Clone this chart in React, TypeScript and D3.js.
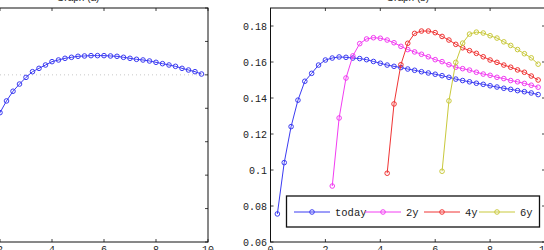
import { useEffect, useRef } from "react";
import * as d3 from "d3";

const W = 544;
const H = 250;

// tick values
const xTicks = [0, 2, 4, 6, 8, 10];
const yTicksA = [0.04, 0.06, 0.08, 0.1, 0.12, 0.14, 0.16, 0.18];
const yTicksB = [0.06, 0.08, 0.1, 0.12, 0.14, 0.16, 0.18];
const refLevelA = 0.14;

// maturities are on a 0.25 grid, each series has its own first point
const step = 0.25;

// Graph (a)
const spotStart = 1.5;
const spot = [
  0.0989, 0.1089, 0.1174, 0.1244, 0.1302, 0.1345, 0.1385, 0.1419, 0.1439,
  0.1459, 0.1479, 0.1489, 0.1499, 0.1505, 0.1511, 0.1513, 0.1515, 0.1515,
  0.1515, 0.1513, 0.1511, 0.1505, 0.1499, 0.1493, 0.1489, 0.1483, 0.1475,
  0.1467, 0.1459, 0.1451, 0.1439, 0.1429, 0.1419, 0.1405,
];

// Graph (b)
const seriesNames = ["today", "2y", "4y", "6y"];
const seriesColors = ["#3b3bf2", "#f23cf2", "#f03434", "#c9c93c"];
const seriesStarts = [0.25, 2.25, 4.25, 6.25];
const today = [
  0.0756, 0.1041, 0.1241, 0.1388, 0.1493, 0.1537, 0.1583, 0.1611, 0.1622,
  0.1628, 0.1626, 0.1622, 0.1619, 0.1613, 0.1603, 0.1593, 0.1583, 0.1576,
  0.1569, 0.1561, 0.1554, 0.1546, 0.1539, 0.1532, 0.1524, 0.1515, 0.1505,
  0.1497, 0.149, 0.1482, 0.1476, 0.1468, 0.1461, 0.1454, 0.1448, 0.1441,
  0.1435, 0.1428, 0.1419,
];
const fwd2y = [
  0.0911, 0.1289, 0.1511, 0.1634, 0.1702, 0.1728, 0.1735, 0.1732, 0.1722,
  0.1707, 0.1687, 0.1669, 0.1656, 0.1643, 0.1629, 0.1613, 0.1602, 0.1585,
  0.1571, 0.1563, 0.1555, 0.1543, 0.1533, 0.1526, 0.1515, 0.1508, 0.1497,
  0.149, 0.1481, 0.1471, 0.146,
];
const fwd4y = [
  0.0982, 0.1367, 0.1585, 0.1704, 0.1759, 0.1772, 0.1772, 0.1763, 0.1742,
  0.1722, 0.1698, 0.1679, 0.1663, 0.1648, 0.1629, 0.1611, 0.1598, 0.1583,
  0.1571, 0.1556, 0.1543, 0.1522, 0.15,
];
const fwd6y = [
  0.0993, 0.1384, 0.1598, 0.1705, 0.1755, 0.1766, 0.1761, 0.1746, 0.1733,
  0.1712, 0.1692, 0.1669, 0.1646, 0.1623, 0.1588,
];
const seriesValues = [today, fwd2y, fwd4y, fwd6y];

type Pt = [number, number];
const toPoints = (start: number, vals: number[]): Pt[] =>
  vals.map((v, i) => [start + i * step, v]);

const MONO = "'Liberation Mono', 'DejaVu Sans Mono', monospace";
const SANS = "'Liberation Sans', Arial, sans-serif";

export default function App() {
  const svgRef = useRef<SVGSVGElement>(null);

  useEffect(() => {
    if (!svgRef.current) return;
    const svg = d3.select(svgRef.current);
    svg.selectAll("*").remove();

    const top = 8;
    const bottom = 242;
    const tick = 3;

    // panel boxes
    const boxA = { left: -52, right: 208 };
    const boxB = { left: 270.5, right: 545 };

    const xA = d3.scaleLinear().domain([0, 10]).range([boxA.left, boxA.right]);
    const yA = d3.scaleLinear().domain([0.04, 0.18]).range([bottom, top]);
    const xB = d3.scaleLinear().domain([0, 10]).range([boxB.left, boxB.right]);
    const yB = d3.scaleLinear().domain([0.06, 0.19]).range([bottom, top]);

    const fmt = (d: number) => String(+d.toFixed(2));

    const drawFrame = (
      x: d3.ScaleLinear<number, number>,
      y: d3.ScaleLinear<number, number>,
      yTicks: number[],
      title: string
    ) => {
      const [l, r] = x.range();
      const g = svg.append("g");
      const tickG = g.append("g").attr("stroke", "#111").attr("stroke-width", 0.8);
      xTicks.forEach((t) => {
        tickG.append("line").attr("x1", x(t)).attr("x2", x(t)).attr("y1", bottom).attr("y2", bottom - tick);
        tickG.append("line").attr("x1", x(t)).attr("x2", x(t)).attr("y1", top).attr("y2", top + tick);
      });
      yTicks.forEach((t) => {
        tickG.append("line").attr("x1", l).attr("x2", l + tick).attr("y1", y(t)).attr("y2", y(t));
        tickG.append("line").attr("x1", r).attr("x2", r - tick).attr("y1", y(t)).attr("y2", y(t));
      });
      g.append("rect")
        .attr("x", l)
        .attr("y", top)
        .attr("width", r - l)
        .attr("height", bottom - top)
        .attr("fill", "none")
        .attr("stroke", "#111")
        .attr("stroke-width", 1);

      g.append("g")
        .selectAll("text")
        .data(xTicks)
        .join("text")
        .attr("x", (d) => x(d))
        .attr("y", bottom + 4)
        .attr("dy", "0.71em")
        .attr("text-anchor", "middle")
        .attr("font-family", MONO)
        .attr("font-size", 10)
        .attr("fill", "#222")
        .text((d) => fmt(d));

      g.append("g")
        .selectAll("text")
        .data(yTicks)
        .join("text")
        .attr("x", l - 3.5)
        .attr("y", (d) => y(d))
        .attr("dy", "0.35em")
        .attr("text-anchor", "end")
        .attr("font-family", MONO)
        .attr("font-size", 10)
        .attr("fill", "#222")
        .text((d) => fmt(d));

      g.append("text")
        .attr("x", (l + r) / 2)
        .attr("y", 1)
        .attr("text-anchor", "middle")
        .attr("font-family", SANS)
        .attr("font-size", 10)
        .attr("fill", "#222")
        .text(title);
    };

    const drawSeries = (
      x: d3.ScaleLinear<number, number>,
      y: d3.ScaleLinear<number, number>,
      pts: Pt[],
      color: string
    ) => {
      const line = d3
        .line<Pt>()
        .x((d) => x(d[0]))
        .y((d) => y(d[1]));
      const g = svg.append("g");
      g.append("path")
        .attr("d", line(pts))
        .attr("fill", "none")
        .attr("stroke", color)
        .attr("stroke-width", 1);
      g.selectAll("circle")
        .data(pts)
        .join("circle")
        .attr("cx", (d) => x(d[0]))
        .attr("cy", (d) => y(d[1]))
        .attr("r", 2.3)
        .attr("fill", "none")
        .attr("stroke", color)
        .attr("stroke-width", 1);
    };

    // Graph (a)
    drawFrame(xA, yA, yTicksA, "Graph (a)");
    svg
      .append("line")
      .attr("x1", boxA.left)
      .attr("x2", boxA.right - 3)
      .attr("y1", yA(refLevelA))
      .attr("y2", yA(refLevelA))
      .attr("stroke", "#bbb")
      .attr("stroke-width", 0.8)
      .attr("stroke-dasharray", "1,3");
    drawSeries(xA, yA, toPoints(spotStart, spot), seriesColors[0]);

    // Graph (b)
    drawFrame(xB, yB, yTicksB, "Graph (b)");
    seriesValues.forEach((vals, i) =>
      drawSeries(xB, yB, toPoints(seriesStarts[i], vals), seriesColors[i])
    );

    // legend
    const lg = svg.append("g");
    lg.append("rect")
      .attr("x", 286.5)
      .attr("y", 196)
      .attr("width", 253)
      .attr("height", 31)
      .attr("fill", "white")
      .attr("stroke", "#111")
      .attr("stroke-width", 1.3);
    const entryX = [294, 365, 424, 479];
    const ly = 212;
    seriesNames.forEach((name, i) => {
      const x0 = entryX[i];
      lg.append("line")
        .attr("x1", x0)
        .attr("x2", x0 + 36)
        .attr("y1", ly)
        .attr("y2", ly)
        .attr("stroke", seriesColors[i])
        .attr("stroke-width", 1);
      lg.append("circle")
        .attr("cx", x0 + 18)
        .attr("cy", ly)
        .attr("r", 2.3)
        .attr("fill", "none")
        .attr("stroke", seriesColors[i]);
      lg.append("text")
        .attr("x", x0 + 41)
        .attr("y", ly)
        .attr("dy", "0.35em")
        .attr("font-family", MONO)
        .attr("font-size", 10.5)
        .attr("fill", "#222")
        .text(name);
    });
  }, []);

  return (
    <svg
      ref={svgRef}
      width={W}
      height={H}
      style={{ position: "absolute", left: 0, top: 0, background: "white" }}
    />
  );
}
